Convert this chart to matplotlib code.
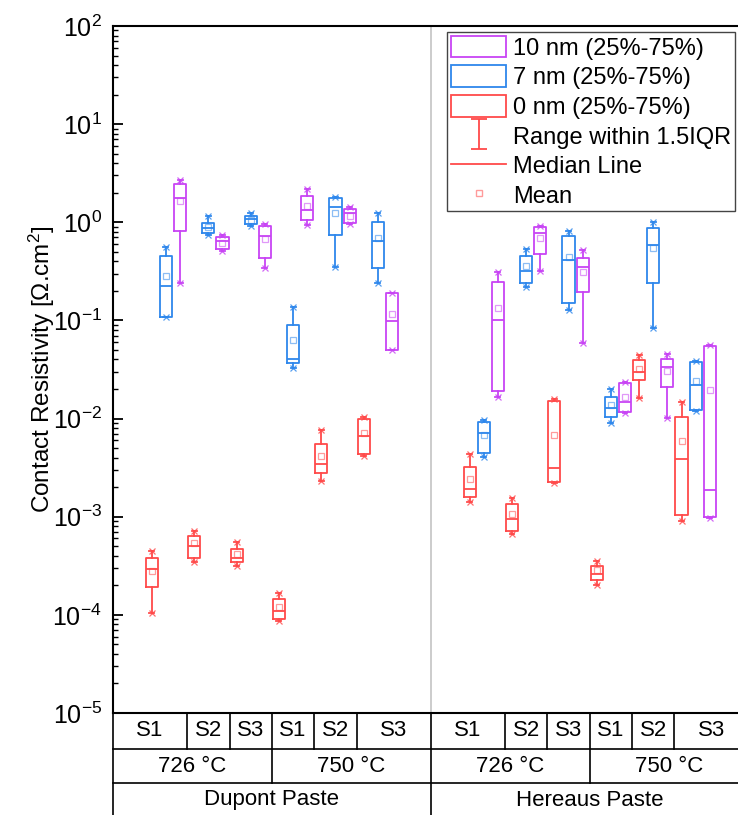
import matplotlib
matplotlib.use('Agg')
import matplotlib.pyplot as plt
from matplotlib.path import Path
from matplotlib.patches import Rectangle
from matplotlib.lines import Line2D
from matplotlib.transforms import blended_transform_factory

plt.rcParams['font.family'] = ['Liberation Sans', 'DejaVu Sans']
plt.rcParams['mathtext.fontset'] = 'custom'
plt.rcParams['mathtext.rm'] = 'Liberation Sans'
plt.rcParams['mathtext.it'] = 'Liberation Sans:italic'
plt.rcParams['mathtext.bf'] = 'Liberation Sans:bold'

# table labels
pastes = ['Dupont Paste', 'Hereaus Paste']
temps = ['726 °C', '750 °C']
samples = ['S1', 'S2', 'S3']

# group order: Dupont 726 S1-S3, Dupont 750 S1-S3, Hereaus 726 S1-S3, Hereaus 750 S1-S3
# each row: whisker low, q1, median, q3, whisker high, mean
nm0 = [
    [1.05e-4, 1.91e-4, 2.95e-4, 3.77e-4, 4.5e-4, 2.82e-4],
    [3.43e-4, 3.82e-4, 5.03e-4, 6.4e-4, 7.1e-4, 5.35e-4],
    [3.15e-4, 3.43e-4, 3.77e-4, 4.66e-4, 5.48e-4, 4.17e-4],
    [8.7e-5, 9.1e-5, 1.09e-4, 1.44e-4, 1.66e-4, 1.21e-4],
    [2.33e-3, 2.77e-3, 3.44e-3, 5.5e-3, 7.6e-3, 4.19e-3],
    [4.2e-3, 4.32e-3, 6.6e-3, 9.9e-3, 1.03e-2, 7.2e-3],
    [1.42e-3, 1.60e-3, 1.90e-3, 3.23e-3, 4.36e-3, 2.40e-3],
    [6.67e-4, 7.15e-4, 9.4e-4, 1.35e-3, 1.56e-3, 1.06e-3],
    [2.2e-3, 2.27e-3, 3.11e-3, 1.52e-2, 1.57e-2, 6.8e-3],
    [2.01e-4, 2.26e-4, 2.59e-4, 3.15e-4, 3.54e-4, 2.86e-4],
    [1.61e-2, 2.47e-2, 3.01e-2, 3.95e-2, 4.44e-2, 3.18e-2],
    [9.1e-4, 1.04e-3, 3.85e-3, 1.04e-2, 1.49e-2, 5.9e-3],
]
nm7 = [
    [0.108, 0.109, 0.226, 0.454, 0.564, 0.284],
    [0.74, 0.77, 0.88, 0.99, 1.16, 0.90],
    [0.92, 0.96, 1.07, 1.17, 1.25, 1.05],
    [0.0325, 0.0366, 0.0402, 0.0898, 0.138, 0.063],
    [0.353, 0.74, 1.42, 1.76, 1.82, 1.25],
    [0.242, 0.34, 0.644, 1.01, 1.25, 0.687],
    [4.1e-3, 4.43e-3, 7.08e-3, 9.3e-3, 9.7e-3, 6.8e-3],
    [0.221, 0.242, 0.321, 0.454, 0.534, 0.359],
    [0.128, 0.152, 0.413, 0.725, 0.82, 0.446],
    [8.95e-3, 0.0103, 0.0127, 0.0167, 0.0199, 0.0137],
    [0.0832, 0.242, 0.586, 0.868, 1.01, 0.55],
    [0.0119, 0.0122, 0.022, 0.038, 0.0389, 0.0243],
]
nm10 = [
    [0.242, 0.82, 1.78, 2.45, 2.70, 1.65],
    [0.513, 0.534, 0.64, 0.713, 0.74, 0.61],
    [0.34, 0.435, 0.72, 0.92, 0.96, 0.67],
    [0.94, 1.05, 1.33, 1.85, 2.17, 1.47],
    [0.96, 0.98, 1.24, 1.37, 1.44, 1.16],
    [0.0496, 0.050, 0.099, 0.189, 0.191, 0.115],
    [0.0167, 0.0191, 0.101, 0.248, 0.314, 0.133],
    [0.321, 0.475, 0.77, 0.89, 0.917, 0.687],
    [0.0593, 0.194, 0.347, 0.43, 0.522, 0.314],
    [0.0115, 0.0117, 0.0149, 0.0232, 0.0238, 0.0167],
    [0.0101, 0.0211, 0.0337, 0.0402, 0.0455, 0.0308],
    [9.6e-4, 9.86e-4, 1.87e-3, 0.0553, 0.0562, 0.0195],
]

RED = '#ff4a4a'
BLUE = '#2e87ec'
MAG = '#c844f4'

fig = plt.figure(figsize=(7.38, 8.15), dpi=100)
ax = fig.add_axes([113/738, 1 - 713/815, 635.6/738, 687/815])

PASTE_GAP = 22.5


def positions(k):
    # box position of series k in each group
    return [(g // 6) * PASTE_GAP + (g % 6) * 3 + k for g in range(12)]


def draw(rows, k, color):
    pos = positions(k)
    stats = [dict(whislo=r[0], q1=r[1], med=r[2], q3=r[3], whishi=r[4], mean=r[5]) for r in rows]
    lp = dict(color=color, lw=1.3)
    ax.bxp(stats, positions=pos, widths=0.86, showmeans=True, showfliers=False,
           boxprops=lp, whiskerprops=lp, capprops=lp, medianprops=lp,
           meanprops=dict(marker='s', mfc='none', mec=color, alpha=0.55, ms=5, mew=0.9),
           capwidths=0.35, manage_ticks=False)
    ax.plot(pos, [r[0] for r in rows], 'x', color=color, ms=5, mew=0.9, alpha=0.8)
    ax.plot(pos, [r[4] for r in rows], 'x', color=color, ms=5, mew=0.9, alpha=0.8)


draw(nm0, 0, RED)
draw(nm7, 1, BLUE)
draw(nm10, 2, MAG)

x0, x1 = -2.75, 42.25
mid = (x0 + x1) / 2
ax.set_yscale('log')
ax.set_ylim(1e-5, 1e2)
ax.set_xlim(x0, x1)
ax.set_xticks([])
ax.xaxis.set_visible(False)
ax.axvline(mid, color='#c4c4c4', lw=1.2, zorder=0)

ax.tick_params(axis='y', which='both', direction='in', right=True, labelsize=18, pad=8)
ax.tick_params(axis='y', which='major', length=7, width=1.3)
ax.tick_params(axis='y', which='minor', length=3.5, width=1.0)
for s in ax.spines.values():
    s.set_linewidth(1.5)
ax.set_ylabel('Contact Resistivity [Ω.cm$^2$]', fontsize=17.5, labelpad=-3)

# table under the axis
tr = blended_transform_factory(ax.transData, ax.transAxes)
r1, r2, r3 = -36/687, -70/687, -106/687
lk = dict(color='black', lw=1.2, transform=tr, clip_on=False)
for y in (r1, r2, r3):
    ax.plot([x0, x1], [y, y], **lk)
for x in (x0, mid, x1):
    ax.plot([x, x], [0, r3], **lk)
for p in range(2):
    left = x0 if p == 0 else mid
    right = mid if p == 0 else x1
    base = p * PASTE_GAP
    cuts = [left] + [base + 2.5 + 3 * i for i in range(5)] + [right]
    for i in range(1, 6):
        ax.plot([cuts[i], cuts[i]], [0, r1 if i != 3 else r2], **lk)
    for i in range(6):
        ax.text((cuts[i] + cuts[i + 1]) / 2, r1 / 2, samples[i % 3], transform=tr,
                ha='center', va='center', fontsize=16)
    for t in range(2):
        ax.text((cuts[3 * t] + cuts[3 * t + 3]) / 2, (r1 + r2) / 2, temps[t], transform=tr,
                ha='center', va='center', fontsize=16)
    ax.text((left + right) / 2, -87/687, pastes[p], transform=tr,
            ha='center', va='center', fontsize=16)

# legend
ibeam = Path([(-0.5, 1), (0.5, 1), (0, 1), (0, -1), (-0.5, -1), (0.5, -1)],
             [Path.MOVETO, Path.LINETO, Path.MOVETO, Path.LINETO, Path.MOVETO, Path.LINETO])
handles = [
    Rectangle((0, 0), 1, 1, fc='none', ec=MAG, lw=1.3),
    Rectangle((0, 0), 1, 1, fc='none', ec=BLUE, lw=1.3),
    Rectangle((0, 0), 1, 1, fc='none', ec=RED, lw=1.3),
    Line2D([], [], marker=ibeam, ms=22, ls='none', mec=RED, mfc='none', mew=1.3),
    Line2D([], [], color=RED, lw=1.3),
    Line2D([], [], marker='s', ls='none', ms=5, mfc='none', mec=RED, alpha=0.55),
]
labels = ['10 nm (25%-75%)', '7 nm (25%-75%)', '0 nm (25%-75%)',
          'Range within 1.5IQR', 'Median Line', 'Mean']
leg = ax.legend(handles, labels, loc='upper right', bbox_to_anchor=(0.9786, 0.9913),
                borderaxespad=0, fontsize=17, fancybox=False, framealpha=1,
                edgecolor='#444444', handlelength=2.35, handleheight=1.05,
                handletextpad=0.3, labelspacing=0.24, borderpad=0.15)
leg.get_frame().set_linewidth(1.0)

fig.savefig('out.png', dpi=100)
